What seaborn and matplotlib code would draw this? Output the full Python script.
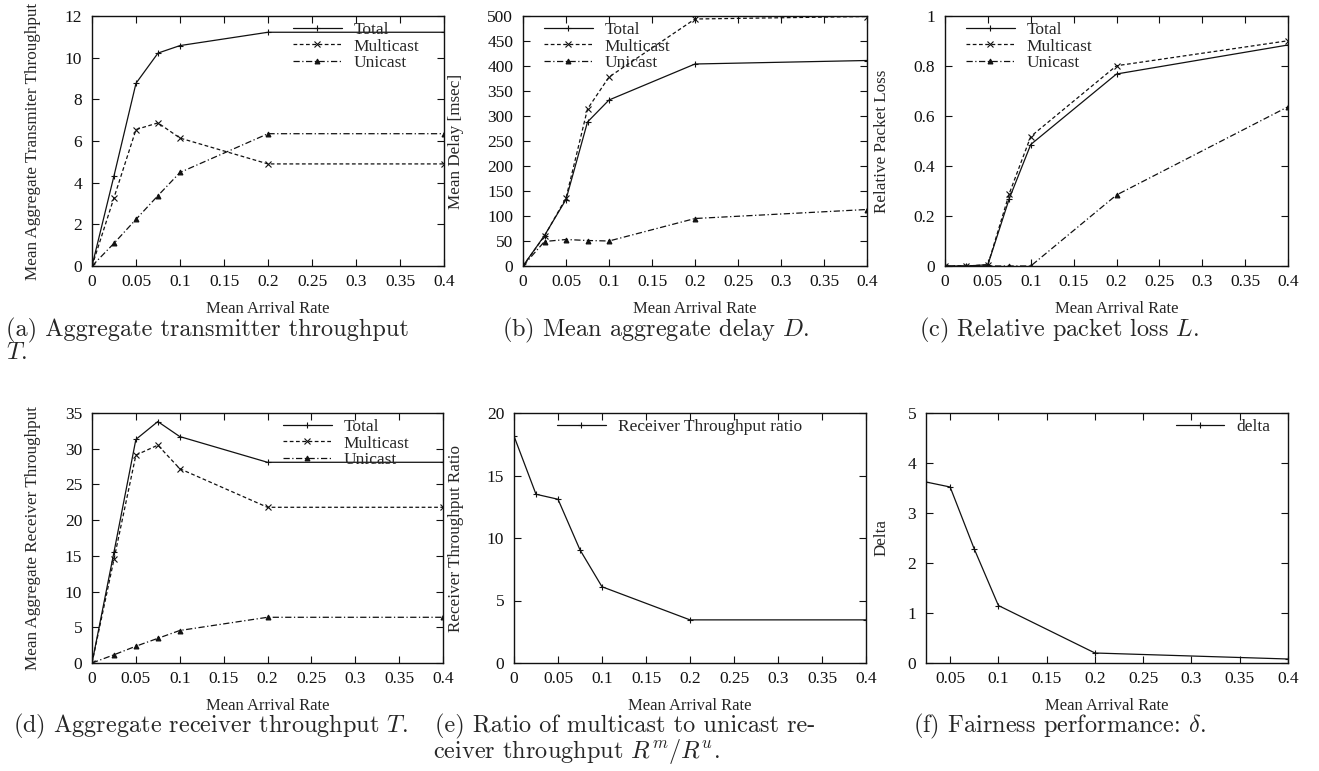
import numpy as np
import pandas as pd
import matplotlib
matplotlib.use("Agg")
import matplotlib.pyplot as plt
from matplotlib.ticker import FormatStrFormatter, MultipleLocator
import seaborn as sns

# data
rate = [0, 0.025, 0.05, 0.075, 0.1, 0.2, 0.4]

tx_total = [0, 4.33, 8.77, 10.22, 10.58, 11.22, 11.22]
tx_multi = [0, 3.28, 6.55, 6.87, 6.14, 4.9, 4.9]
tx_uni = [0, 1.09, 2.24, 3.38, 4.49, 6.35, 6.35]

delay_total = [0, 61, 133, 288, 332, 404, 411]
delay_multi = [0, 60, 136, 314, 378, 494, 499]
delay_uni = [0, 49, 53, 51, 50, 95, 113]

loss_total = [0, 0, 0.005, 0.27, 0.486, 0.768, 0.884]
loss_multi = [0, 0, 0.005, 0.29, 0.518, 0.801, 0.901]
loss_uni = [0, 0, 0, 0, 0, 0.284, 0.637]

rx_total = [0, 15.5, 31.3, 33.8, 31.7, 28.1, 28.1]
rx_multi = [0, 14.5, 29.1, 30.5, 27.2, 21.8, 21.8]
rx_uni = [0, 1.15, 2.35, 3.45, 4.55, 6.4, 6.4]

ratio = [18.15, 13.5, 13.1, 9.05, 6.1, 3.45, 3.45]

delta_rate = [0.025, 0.05, 0.075, 0.1, 0.2, 0.4]
delta = [3.62, 3.52, 2.28, 1.15, 0.2, 0.08]

sns.set_style("ticks")
plt.rcParams["font.family"] = ["Liberation Serif", "DejaVu Serif"]
plt.rcParams["mathtext.fontset"] = "cm"

W, H = 1319, 771
fig = plt.figure(figsize=(W / 100, H / 100), dpi=100)


def make_axes(left, right, top, bottom):
    return fig.add_axes([left / W, 1 - bottom / H, (right - left) / W, (bottom - top) / H])


styles = {
    "Total": dict(linestyle="-", marker="+", markersize=5),
    "Multicast": dict(linestyle=(0, (3, 2)), marker="x", markersize=3.8),
    "Unicast": dict(linestyle=(0, (5, 2, 1, 2)), marker="^", markersize=3.5),
}


def draw(ax, x, series):
    for name, vals in series:
        sns.lineplot(x=x, y=vals, ax=ax, color="#111111", linewidth=0.9,
                     markeredgecolor="#111111", markerfacecolor="#111111",
                     markeredgewidth=0.8, label=name, errorbar=None, sort=False,
                     **styles.get(name, styles["Total"]))


def finish(ax, xlim, ylim, ystep, ylabel, ylab_x, leg_x, leg_y=0.975):
    ax.set_xlim(*xlim)
    ax.set_ylim(*ylim)
    ax.xaxis.set_major_locator(MultipleLocator(0.05))
    ax.yaxis.set_major_locator(MultipleLocator(ystep))
    ax.xaxis.set_major_formatter(FormatStrFormatter("%g"))
    ax.yaxis.set_major_formatter(FormatStrFormatter("%g"))
    ax.tick_params(direction="in", length=5, width=0.8, top=True, right=True,
                   labelsize=12.5, colors="#111111")
    ax.tick_params(axis="x", pad=6)
    ax.tick_params(axis="y", pad=7)
    for s in ax.spines.values():
        s.set_linewidth(1.0)
        s.set_color("#111111")
    ax.set_xlabel("Mean Arrival Rate", fontsize=12)
    ax.xaxis.set_label_coords(0.5, -0.14)
    ax.set_ylabel(ylabel, fontsize=12.3)
    ax.yaxis.set_label_coords(ylab_x, 0.5)
    ax.legend(loc="upper left", bbox_to_anchor=(leg_x, leg_y), frameon=False,
              fontsize=12.5, borderpad=0, borderaxespad=0, handlelength=2.8,
              handletextpad=0.7, labelspacing=0.0, numpoints=1)


# (a) transmitter throughput
ax = make_axes(92, 444, 16, 266)
draw(ax, rate, [("Total", tx_total), ("Multicast", tx_multi), ("Unicast", tx_uni)])
finish(ax, (0, 0.4), (0, 12), 2, "Mean Aggregate Transmiter Throughput", -0.145, 0.571)

# (b) delay
ax = make_axes(523, 867, 16, 266)
draw(ax, rate, [("Total", delay_total), ("Multicast", delay_multi), ("Unicast", delay_uni)])
finish(ax, (0, 0.4), (0, 500), 50, "Mean Delay [msec]", -0.172, 0.061)

# (c) packet loss
ax = make_axes(945, 1288, 16, 266)
draw(ax, rate, [("Total", loss_total), ("Multicast", loss_multi), ("Unicast", loss_uni)])
finish(ax, (0, 0.4), (0, 1), 0.2, "Relative Packet Loss", -0.160, 0.061)

# (d) receiver throughput
ax = make_axes(92, 443, 413, 663)
draw(ax, rate, [("Total", rx_total), ("Multicast", rx_multi), ("Unicast", rx_uni)])
finish(ax, (0, 0.4), (0, 35), 5, "Mean Aggregate Receiver Throughput", -0.145, 0.544)

# (e) throughput ratio
ax = make_axes(514, 866, 413, 663)
draw(ax, rate, [("Receiver Throughput ratio", ratio)])
finish(ax, (0, 0.4), (0, 20), 5, "Receiver Throughput Ratio", -0.142, 0.122)

# (f) fairness
ax = make_axes(926, 1288, 413, 663)
draw(ax, delta_rate, [("delta", delta)])
finish(ax, (0.025, 0.4), (0, 5), 1, "Delta", -0.102, 0.69)

# sub-figure captions
cap = dict(fontsize=17.5, family="cmr10", va="center", ha="left")


def caption(x, y, s):
    fig.text(x / W, 1 - y / H, s, **cap)


caption(6, 330, "(a) Aggregate transmitter throughput")
caption(6, 353, "$T$.")
caption(502, 330, "(b) Mean aggregate delay $D$.")
caption(919, 330, "(c) Relative packet loss $L$.")
caption(13, 726, "(d) Aggregate receiver throughput $T$.")
caption(435, 726, "(e) Ratio of multicast to unicast re-")
caption(433, 751, "ceiver throughput $R^m/R^u$.")
caption(913, 726, "(f) Fairness performance: $\\delta$.")

fig.savefig("out.png", dpi=100)
